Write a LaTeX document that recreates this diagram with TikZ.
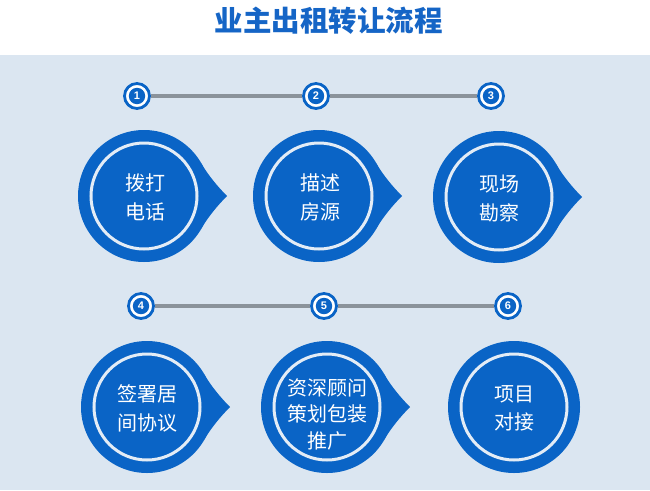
\documentclass[tikz,border=0pt]{standalone}
\usepackage{fontspec}
\setmainfont{Liberation Sans}
\newfontfamily\cjk{Noto Sans CJK SC}
\definecolor{bgblue}{HTML}{DBE6F1}
\definecolor{mainblue}{HTML}{0A64C6}
\definecolor{titleblue}{HTML}{1565C6}
\definecolor{linegray}{HTML}{8B939B}
\definecolor{ringwhite}{HTML}{E3ECF6}
\tikzset{
  numdot/.style={circle, draw=mainblue, line width=2.8pt, fill=white, minimum size=25pt, inner sep=0pt,
    text=white, font=\bfseries\fontsize{11}{11}\selectfont,
    path picture={\fill[mainblue] (path picture bounding box.center) circle (8.2);}},
  gline/.style={draw=linegray, line width=4pt},
  bigdisc/.style={circle, fill=mainblue, minimum size=132pt, inner sep=0pt,
    path picture={\draw[ringwhite, line width=3pt] (path picture bounding box.center) circle (53);}},
  disctext/.style={text=white, align=center, font=\cjk\fontsize{20}{28.5}\selectfont, inner sep=0pt},
}
\newcommand{\pointer}[1]{%
  \fill[mainblue] ([shift={(57,-33)}]#1.center) .. controls ([shift={(64,-21)}]#1.center) and ([shift={(74,-9)}]#1.center) .. ([shift={(83,0)}]#1.center)
    .. controls ([shift={(74,9)}]#1.center) and ([shift={(64,21)}]#1.center) .. ([shift={(57,33)}]#1.center) -- cycle;}
\begin{document}
\begin{tikzpicture}[x=1pt,y=-1pt]
\useasboundingbox (0,0) rectangle (650,490);
\fill[white] (0,0) rectangle (650,490);
\fill[bgblue] (0,55) rectangle (650,490);
\node[text=titleblue, font=\cjk\bfseries\fontsize{28.5}{28.5}\selectfont, inner sep=0pt] (title) at (328.5,21) {业主出租转让流程};
% numbered dots
\node[numdot] (n1) at (137,96) {1};
\node[numdot] (n2) at (316,96) {2};
\node[numdot] (n3) at (491,96) {3};
\node[numdot] (n4) at (141,306) {4};
\node[numdot] (n5) at (324,306) {5};
\node[numdot] (n6) at (508,306) {6};
\draw[gline] (n1) -- (n2);
\draw[gline] (n2) -- (n3);
\draw[gline] (n4) -- (n5);
\draw[gline] (n5) -- (n6);
% big discs
\node[bigdisc] (c1) at (144,196) {};
\node[bigdisc] (c2) at (319,196) {};
\node[bigdisc] (c3) at (499,197) {};
\node[bigdisc] (c4) at (147,407) {};
\node[bigdisc] (c5) at (327,407) {};
\node[bigdisc] (c6) at (514,407) {};
\pointer{c1}
\pointer{c2}
\pointer{c3}
\pointer{c4}
\pointer{c5}
\node[disctext] (t1) at (145,197.5) {拨打\\电话};
\node[disctext] (t2) at (320,197.5) {描述\\房源};
\node[disctext] (t3) at (499,198.5) {现场\\勘察};
\node[disctext] (t4) at (147,408.5) {签署居\\间协议};
\node[disctext, font=\cjk\fontsize{20}{26.5}\selectfont] (t5) at (327,414.5) {资深顾问\\策划包装\\推广};
\node[disctext] (t6) at (514,408.5) {项目\\对接};
\end{tikzpicture}
\end{document}
